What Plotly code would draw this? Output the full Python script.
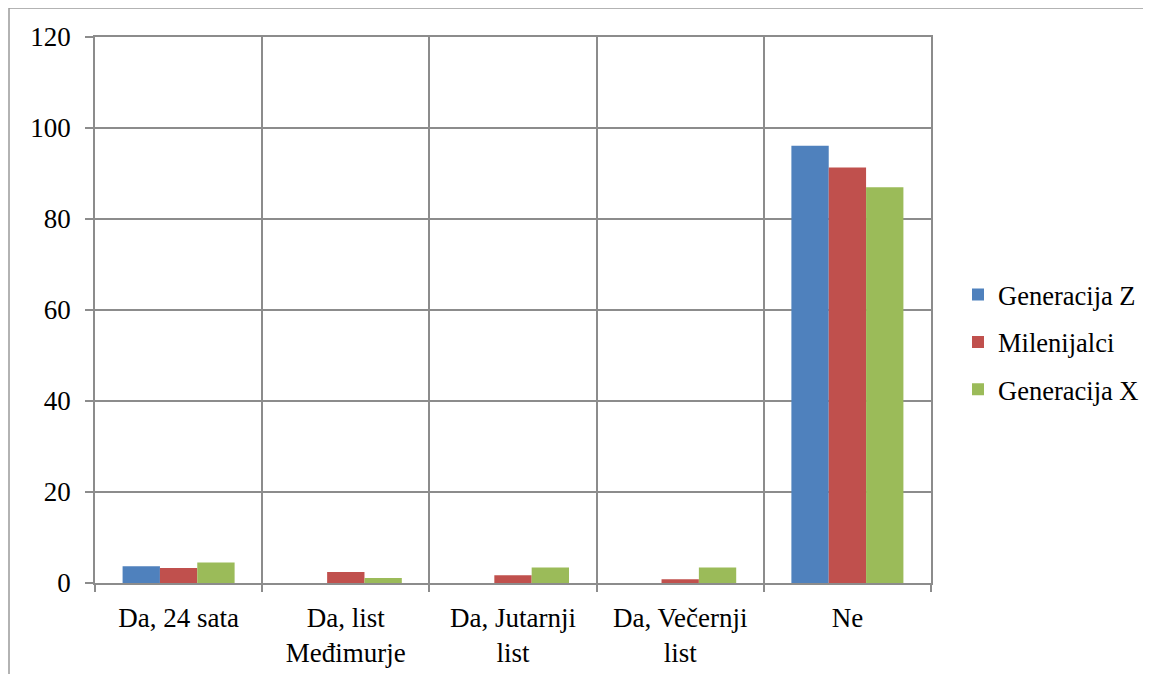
import plotly.graph_objects as go

categories = ["Da, 24 sata", "Da, list<br>Međimurje", "Da, Jutarnji<br>list", "Da, Večernji<br>list", "Ne"]
series_names = ["Generacija Z", "Milenijalci", "Generacija X"]
gen_z = [3.7, 0, 0, 0, 96.1]
milenijalci = [3.3, 2.4, 1.7, 0.8, 91.3]
gen_x = [4.5, 1.1, 3.4, 3.4, 87.0]
colors = ["#4F81BD", "#C0504D", "#9BBB59"]
y_ticks = [0, 20, 40, 60, 80, 100, 120]

FONT = "Liberation Serif"
# page body has an 8px margin; figure drawn 8px smaller and shifted
OFF = 8
W, H = 1151 - OFF, 674 - OFF
L, R, T, B = 95 - OFF, 931 - OFF, 37 - OFF, 583 - OFF

fig = go.Figure()
for i, (name, vals) in enumerate(zip(series_names, [gen_z, milenijalci, gen_x])):
    fig.add_trace(go.Bar(x=categories, y=vals, name=name, marker_color=colors[i],
                         marker_line_width=0, legendgroup=name))

grid = "#8c8c8c"
fig.update_layout(
    width=W, height=H,
    margin=dict(l=L, r=W - R, t=T, b=H - B, autoexpand=False),
    paper_bgcolor="white", plot_bgcolor="white",
    barmode="group", bargap=0.33, bargroupgap=0,
    font=dict(family=FONT, size=27, color="black"),
    showlegend=True,
    legend=dict(x=1.0323, y=0.441, xanchor="left", yanchor="middle",
                font=dict(family=FONT, size=26.5, color="black"),
                tracegroupgap=10, itemwidth=30),
    xaxis=dict(type="category", tickson="boundaries", showgrid=True, gridcolor=grid, gridwidth=1.5,
               showline=True, linecolor=grid, linewidth=1.5, mirror=True,
               ticks="outside", ticklen=7, tickcolor=grid, tickwidth=1.5,
               ticklabelstandoff=10,
               tickfont=dict(family=FONT, size=27)),
    yaxis=dict(range=[0, 120], tickvals=y_ticks, showgrid=True, gridcolor=grid, gridwidth=1.5,
               showline=True, linecolor=grid, linewidth=1.5, mirror=True,
               ticks="outside", ticklen=8, tickcolor=grid, tickwidth=1.5,
               ticklabelstandoff=9,
               tickfont=dict(family=FONT, size=27), zeroline=False),
)

# outer frame (left and top edges visible)
pw, ph = R - L, B - T
x_left = (9 - OFF - L) / pw
y_top = (B - (8 - OFF)) / ph
x_right = (W + OFF - L) / pw
y_bot = (B - H - OFF) / ph
fig.add_shape(type="line", xref="paper", yref="paper", x0=x_left, x1=x_left, y0=y_bot, y1=y_top,
              line=dict(color="#9a9a9a", width=1.5), layer="above")
fig.add_shape(type="line", xref="paper", yref="paper", x0=x_left, x1=x_right, y0=y_top, y1=y_top,
              line=dict(color="#9a9a9a", width=1.5), layer="above")

fig.write_html("out.html")
